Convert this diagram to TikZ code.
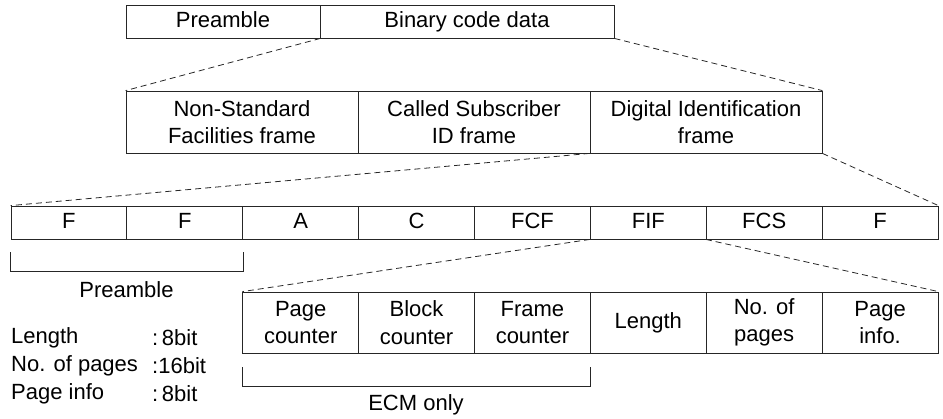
\documentclass[tikz,border=0pt]{standalone}
\usepackage{fontspec}
\setmainfont{Liberation Sans}
\usetikzlibrary{calc}
\tikzset{
  cell/.style={draw=black!85, line width=0.8pt, rectangle, inner sep=0pt, align=center,
    font=\fontsize{22}{27.5}\selectfont},
  cellA/.style={cell, minimum height=33pt, text height=16pt, text depth=5pt},
  cellB/.style={cell, minimum height=62pt, minimum width=232pt},
  cellC/.style={cell, minimum height=33pt, minimum width=115.875pt, text height=16pt, text depth=5pt},
  cellD/.style={cell, minimum height=61pt, minimum width=115.875pt},
  zoomline/.style={draw=black!85, line width=0.8pt, dash pattern=on 6pt off 4pt},
  bracket/.style={draw=black!85, line width=0.8pt},
  lbl/.style={inner sep=0pt, font=\fontsize{22}{27.5}\selectfont},
}
\begin{document}
\begin{tikzpicture}[x=1pt,y=-1pt]
\useasboundingbox (0,0) rectangle (943,418);
% row 1
\node[cellA, minimum width=194pt] (pre) at (223,21.5) {Preamble};
\node[cellA, minimum width=294pt] (bin) at (467,21.5) {Binary code data};
% row 2
\node[cellB] (nsf) at (242,122) {Non-Standard\\Facilities frame};
\node[cellB] (csi) at (474,122) {Called Subscriber\\ID frame};
\node[cellB] (dis) at (706,122) {Digital Identification\\frame};
% row 3
\foreach \t [count=\i] in {F,F,A,C,FCF,FIF,FCS,F}{
  \node[cellC] (r\i) at ({11+115.875*(\i-0.5)},222.5) {\t};
}
% row 4
\node[cellD] (q1) at ({11+115.875*2.5},322.5) {Page\\counter};
\node[cellD] (q2) at ({11+115.875*3.5},322.5) {Block\\counter};
\node[cellD] (q3) at ({11+115.875*4.5},322.5) {Frame\\counter};
\node[cellD] (q4) at ({11+115.875*5.5},322.5) {Length};
\node[cellD] (q5) at ({11+115.875*6.5},322.5) {No. of\\pages};
\node[cellD] (q6) at ({11+115.875*7.5},322.5) {Page\\info.};
% zoom lines
\draw[zoomline] (pre.south east) -- (nsf.north west);
\draw[zoomline] (bin.south east) -- (dis.north east);
\draw[zoomline] (dis.south west) -- (r1.north west);
\draw[zoomline] (dis.south east) -- (r8.north east);
\draw[zoomline] (r6.south west) -- (q1.north west);
\draw[zoomline] (r7.south west) -- (q6.north east);
% brackets
\draw[bracket] ([yshift=-13pt]r1.south west) -- ++(0,19) -| ([yshift=-13pt]r2.south east);
\node[lbl] (preLbl) at (126.5,290) {Preamble};
\draw[bracket] ([yshift=-14pt]q1.south west) -- ++(0,19) -| ([yshift=-14pt]q3.south east);
\node[lbl] (ecmLbl) at (416,405) {ECM only};
% left notes
\node[lbl, anchor=west] (n1) at (11,338) {Length};
\node[lbl, anchor=west] (v1) at (152,338) {:\,8bit};
\node[lbl, anchor=west] (n2) at (11,366) {No. of pages};
\node[lbl, anchor=west] (v2) at (152,366) {:16bit};
\node[lbl, anchor=west] (n3) at (11,394) {Page info};
\node[lbl, anchor=west] (v3) at (152,394) {:\,8bit};
\end{tikzpicture}
\end{document}
